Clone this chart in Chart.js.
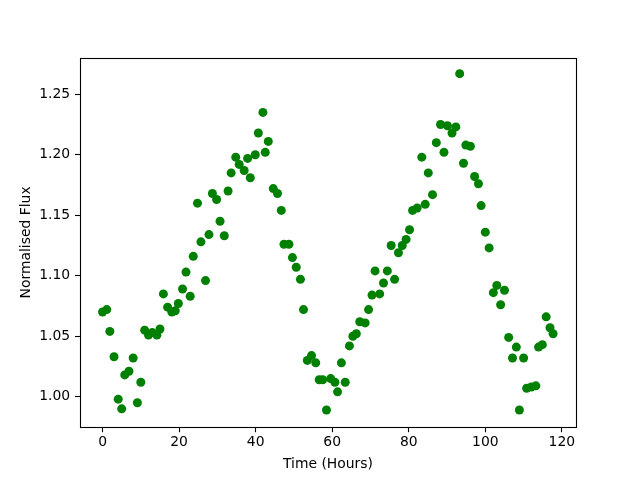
<!DOCTYPE html>
<html>
<head>
<meta charset="utf-8">
<title>Normalised Flux</title>
<script src="https://cdn.jsdelivr.net/npm/chart.js@4.4.1/dist/chart.umd.min.js"></script>
<style>
  html, body { margin: 0; padding: 0; background: #ffffff; }
  #wrap { width: 640px; height: 480px; }
</style>
</head>
<body>
<div id="wrap"><canvas id="fluxChart" width="640" height="480"></canvas></div>
<script>
// Data
const timeHours = [
  0.0, 1.1, 1.9, 3.0, 4.1, 5.0, 5.8, 6.9, 8.0, 9.1,
  10.0, 11.0, 12.0, 13.0, 14.2, 15.0, 15.9, 17.0, 18.1, 19.0,
  19.8, 20.9, 21.8, 22.9, 23.7, 24.8, 25.7, 26.9, 27.8, 28.7,
  29.8, 30.7, 31.8, 32.8, 33.6, 34.8, 35.7, 37.0, 37.9, 38.6,
  39.9, 40.7, 41.9, 42.5, 43.3, 44.6, 45.7, 46.7, 47.4, 48.7,
  49.6, 50.6, 51.7, 52.5, 53.5, 54.6, 55.7, 56.6, 57.5, 58.5,
  59.6, 60.7, 61.4, 62.4, 63.4, 64.5, 65.4, 66.3, 67.2, 68.6,
  69.5, 70.4, 71.2, 72.4, 73.4, 74.4, 75.4, 76.3, 77.3, 78.3,
  79.3, 80.2, 81.0, 82.2, 83.4, 84.3, 85.1, 86.2, 87.2, 88.3,
  89.2, 90.1, 91.3, 92.3, 93.3, 94.3, 94.9, 96.1, 97.2, 98.2,
  98.9, 100.0, 101.0, 102.1, 103.0, 104.0, 105.0, 106.1, 107.1, 108.1,
  108.9, 110.0, 110.8, 112.0, 113.2, 113.9, 114.9, 115.9, 116.9, 117.7
];
const normFlux = [
  1.070, 1.072, 1.054, 1.033, 0.998, 0.990, 1.018, 1.021, 1.032, 0.995,
  1.012, 1.055, 1.051, 1.053, 1.051, 1.056, 1.085, 1.074, 1.070, 1.071,
  1.077, 1.089, 1.103, 1.083, 1.116, 1.160, 1.128, 1.096, 1.134, 1.168,
  1.163, 1.145, 1.133, 1.170, 1.185, 1.198, 1.192, 1.187, 1.197, 1.181,
  1.200, 1.218, 1.235, 1.202, 1.211, 1.172, 1.168, 1.154, 1.126, 1.126,
  1.115, 1.107, 1.097, 1.072, 1.030, 1.034, 1.028, 1.014, 1.014, 0.989,
  1.015, 1.012, 1.004, 1.028, 1.012, 1.042, 1.050, 1.052, 1.062, 1.061,
  1.072, 1.084, 1.104, 1.085, 1.094, 1.104, 1.125, 1.097, 1.119, 1.125,
  1.130, 1.138, 1.154, 1.156, 1.198, 1.159, 1.185, 1.167, 1.210, 1.225,
  1.202, 1.224, 1.218, 1.223, 1.267, 1.193, 1.208, 1.207, 1.182, 1.176,
  1.158, 1.136, 1.123, 1.086, 1.092, 1.076, 1.088, 1.049, 1.032, 1.041,
  0.989, 1.032, 1.007, 1.008, 1.009, 1.041, 1.043, 1.066, 1.057, 1.052
];
const xTicks = [0, 20, 40, 60, 80, 100, 120];
const yTicks = [1.00, 1.05, 1.10, 1.15, 1.20, 1.25];

const FONT = "'DejaVu Sans', sans-serif";
const FONT_SIZE = 13.9;

// Full black frame around the plot area (matplotlib spines)
const framePlugin = {
  id: 'frame',
  afterDatasetsDraw(chart) {
    const a = chart.chartArea;
    const ctx = chart.ctx;
    ctx.save();
    ctx.strokeStyle = '#000000';
    ctx.lineWidth = 1.1;
    ctx.strokeRect(Math.round(a.left) + 0.5, Math.round(a.top) + 0.5,
      Math.round(a.right) - Math.round(a.left), Math.round(a.bottom) - Math.round(a.top));
    ctx.restore();
  }
};

const points = timeHours.map((t, i) => ({ x: t, y: normFlux[i] }));

new Chart(document.getElementById('fluxChart'), {
  type: 'scatter',
  data: {
    datasets: [{
      data: points,
      backgroundColor: '#008000',
      borderWidth: 0,
      pointRadius: 4.5,
      pointHoverRadius: 4.5
    }]
  },
  options: {
    responsive: false,
    animation: false,
    events: [],
    layout: { padding: { top: 57.6, right: 64, bottom: 0, left: 0 } },
    plugins: { legend: { display: false }, tooltip: { enabled: false } },
    scales: {
      x: {
        type: 'linear',
        min: -5.89,
        max: 123.69,
        afterBuildTicks: (scale) => { scale.ticks = xTicks.map(v => ({ value: v })); },
        afterFit: (scale) => { scale.height = 52.8; },
        border: { display: false },
        grid: { drawOnChartArea: false, drawTicks: true, tickLength: 5, tickWidth: 1.1, tickColor: '#000', color: '#000' },
        ticks: { color: '#000', padding: 2, maxRotation: 0, font: { family: FONT, size: FONT_SIZE } },
        title: { display: true, text: 'Time (Hours)', color: '#000', padding: { top: 0, bottom: 7.7 }, font: { family: FONT, size: FONT_SIZE } }
      },
      y: {
        type: 'linear',
        min: 0.9748,
        max: 1.2803,
        afterBuildTicks: (scale) => { scale.ticks = yTicks.map(v => ({ value: v })); },
        afterFit: (scale) => { scale.width = 80; },
        border: { display: false },
        grid: { drawOnChartArea: false, drawTicks: true, tickLength: 5, tickWidth: 1.1, tickColor: '#000', color: '#000' },
        ticks: { color: '#000', padding: 4.9, callback: (v) => Number(v).toFixed(2), font: { family: FONT, size: FONT_SIZE } },
        title: { display: true, text: 'Normalised Flux', color: '#000', padding: { top: 18.5, bottom: 0 }, font: { family: FONT, size: FONT_SIZE } }
      }
    }
  },
  plugins: [framePlugin]
});
</script>
</body>
</html>
